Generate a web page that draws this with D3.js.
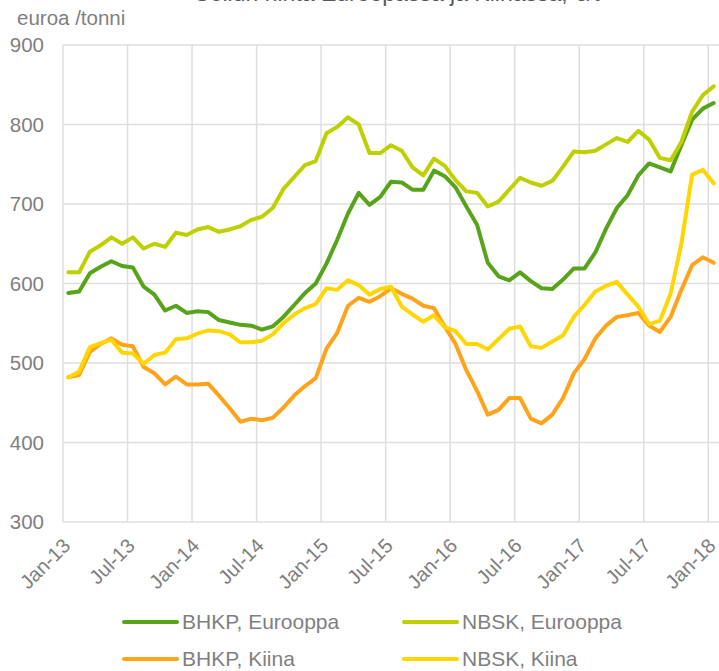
<!DOCTYPE html>
<html>
<head>
<meta charset="utf-8">
<script src="https://cdn.jsdelivr.net/npm/d3@7"></script>
<style>
  body { margin: 0; background: #fff; }
  svg { display: block; font-family: "Liberation Sans", Arial, sans-serif; }
</style>
</head>
<body>
<svg id="chart" width="719" height="671"></svg>
<script>
// monthly, Jan-13 .. Jan-18
const months = d3.timeMonths(new Date(2013, 0, 1), new Date(2018, 1, 1));
const tickMonths = d3.range(0, 61, 6);
const yTicks = [300, 400, 500, 600, 700, 800, 900];

const bhkpEurooppa = [
  588, 590, 613, 621, 628, 622, 620, 596, 586, 566,
  572, 563, 565, 564, 554, 551, 548, 547, 542, 546,
  558, 573, 588, 600, 625, 655, 688, 714, 699, 709,
  728, 727, 718, 718, 742, 735, 721, 697, 674, 626,
  609, 604, 614, 603, 594, 593, 605, 619, 619, 639,
  669, 695, 711, 736, 751, 746, 741, 774, 806, 820,
  827,
];
const nbskEurooppa = [
  614, 614, 640, 648, 658, 650, 658, 644, 650, 646,
  664, 661, 668, 671, 665, 668, 672, 680, 684, 695,
  719, 734, 749, 754, 789, 797, 809, 800, 764, 764,
  774, 767, 746, 736, 757, 748, 730, 716, 714, 697,
  703, 718, 733, 727, 723, 729, 747, 766, 765, 767,
  775, 783, 778, 792, 781, 758, 755, 778, 816, 837,
  848,
];
const bhkpKiina = [
  482, 485, 514, 524, 531, 523, 521, 495, 487, 473,
  483, 473, 473, 474, 459, 443, 426, 430, 428, 431,
  444, 459, 471, 481, 518, 538, 572, 582, 577, 584,
  594, 587, 581, 572, 569, 546, 524, 491, 465, 435,
  441, 456, 456, 430, 424, 435, 456, 487, 505, 531,
  547, 558, 560, 563, 547, 539, 558, 592, 623, 633,
  626,
];
const nbskKiina = [
  482, 489, 520, 525, 529, 513, 512, 499, 510, 513,
  530, 531, 537, 541, 540, 536, 526, 526, 528, 536,
  550, 561, 569, 574, 594, 592, 604, 598, 586, 593,
  596, 571, 561, 552, 560, 545, 540, 524, 524, 517,
  530, 543, 546, 521, 519, 527, 535, 558, 573, 590,
  597, 602, 586, 571, 549, 553, 587, 650, 737, 743,
  726,
];

const series = [
  { name: "BHKP, Eurooppa", color: "#57A31A", values: bhkpEurooppa },
  { name: "NBSK, Eurooppa", color: "#BFD000", values: nbskEurooppa },
  { name: "BHKP, Kiina", color: "#FFA31A", values: bhkpKiina },
  { name: "NBSK, Kiina", color: "#FFD600", values: nbskKiina },
];

const svg = d3.select("svg#chart");
const plot = { left: 63, right: 719, top: 45, bottom: 522 };
const textColor = "#7F7F7F";
const gridColor = "#DEDEDE";

// points sit in the middle of their month slot (Excel "between tick marks")
const x = d3.scaleLinear().domain([0, months.length]).range([plot.left, plot.right]);
const y = d3.scaleLinear().domain([300, 900]).range([plot.bottom, plot.top]);
const fmt = d3.timeFormat("%b-%y");

// title, cut off by the top edge as in the source image
svg
  .append("text")
  .attr("x", 397)
  .attr("y", 1)
  .attr("text-anchor", "middle")
  .attr("font-size", 23)
  .attr("fill", "#595959")
  .text("Sellun hinta Euroopassa ja Kiinassa, €/t");

svg
  .append("text")
  .attr("x", 17)
  .attr("y", 25)
  .attr("font-size", 20.5)
  .attr("fill", textColor)
  .text("euroa /tonni");

// grid
const grid = svg.append("g").attr("stroke", gridColor).attr("stroke-width", 1.5);
grid
  .selectAll("line.h")
  .data(yTicks)
  .join("line")
  .attr("class", "h")
  .attr("x1", plot.left)
  .attr("x2", plot.right)
  .attr("y1", (d) => y(d))
  .attr("y2", (d) => y(d));
grid
  .selectAll("line.v")
  .data(tickMonths)
  .join("line")
  .attr("class", "v")
  .attr("x1", (d) => x(d))
  .attr("x2", (d) => x(d))
  .attr("y1", plot.top)
  .attr("y2", plot.bottom);

// y axis labels
svg
  .append("g")
  .attr("transform", `translate(${plot.left},0)`)
  .call(d3.axisLeft(y).tickValues(yTicks).tickSize(0).tickPadding(19))
  .call((g) => g.select(".domain").remove())
  .call((g) =>
    g.selectAll("text").attr("font-size", 20.5).attr("fill", textColor)
  );

// x axis labels, rotated
svg
  .append("g")
  .attr("transform", `translate(0,${plot.bottom})`)
  .call(
    d3
      .axisBottom(x)
      .tickValues(tickMonths)
      .tickSize(0)
      .tickFormat((i) => fmt(months[i]))
  )
  .call((g) => g.select(".domain").remove())
  .call((g) =>
    g
      .selectAll("text")
      .attr("x", 0)
      .attr("y", 0)
      .attr("dy", 0)
      .attr("text-anchor", "end")
      .attr("transform", "translate(8,25) rotate(-45)")
      .attr("font-size", 20)
      .attr("fill", textColor)
  );

// lines
const line = d3
  .line()
  .x((d, i) => x(i + 0.5))
  .y((d) => y(d));

svg
  .append("g")
  .attr("fill", "none")
  .attr("stroke-width", 4)
  .attr("stroke-linejoin", "round")
  .attr("stroke-linecap", "round")
  .selectAll("path")
  .data(series)
  .join("path")
  .attr("stroke", ({ color }) => color)
  .attr("d", ({ values }) => line(values));

// legend, two columns by two rows
const legend = svg
  .append("g")
  .selectAll("g")
  .data(series)
  .join("g")
  .attr(
    "transform",
    (d, i) => `translate(${i % 2 ? 404 : 124},${i < 2 ? 622 : 659})`
  );
legend
  .append("line")
  .attr("x1", 0)
  .attr("x2", 53)
  .attr("stroke", ({ color }) => color)
  .attr("stroke-width", 4)
  .attr("stroke-linecap", "round");
legend
  .append("text")
  .attr("x", 58)
  .attr("dy", "0.35em")
  .attr("font-size", 21)
  .attr("fill", textColor)
  .text(({ name }) => name);
</script>
</body>
</html>
